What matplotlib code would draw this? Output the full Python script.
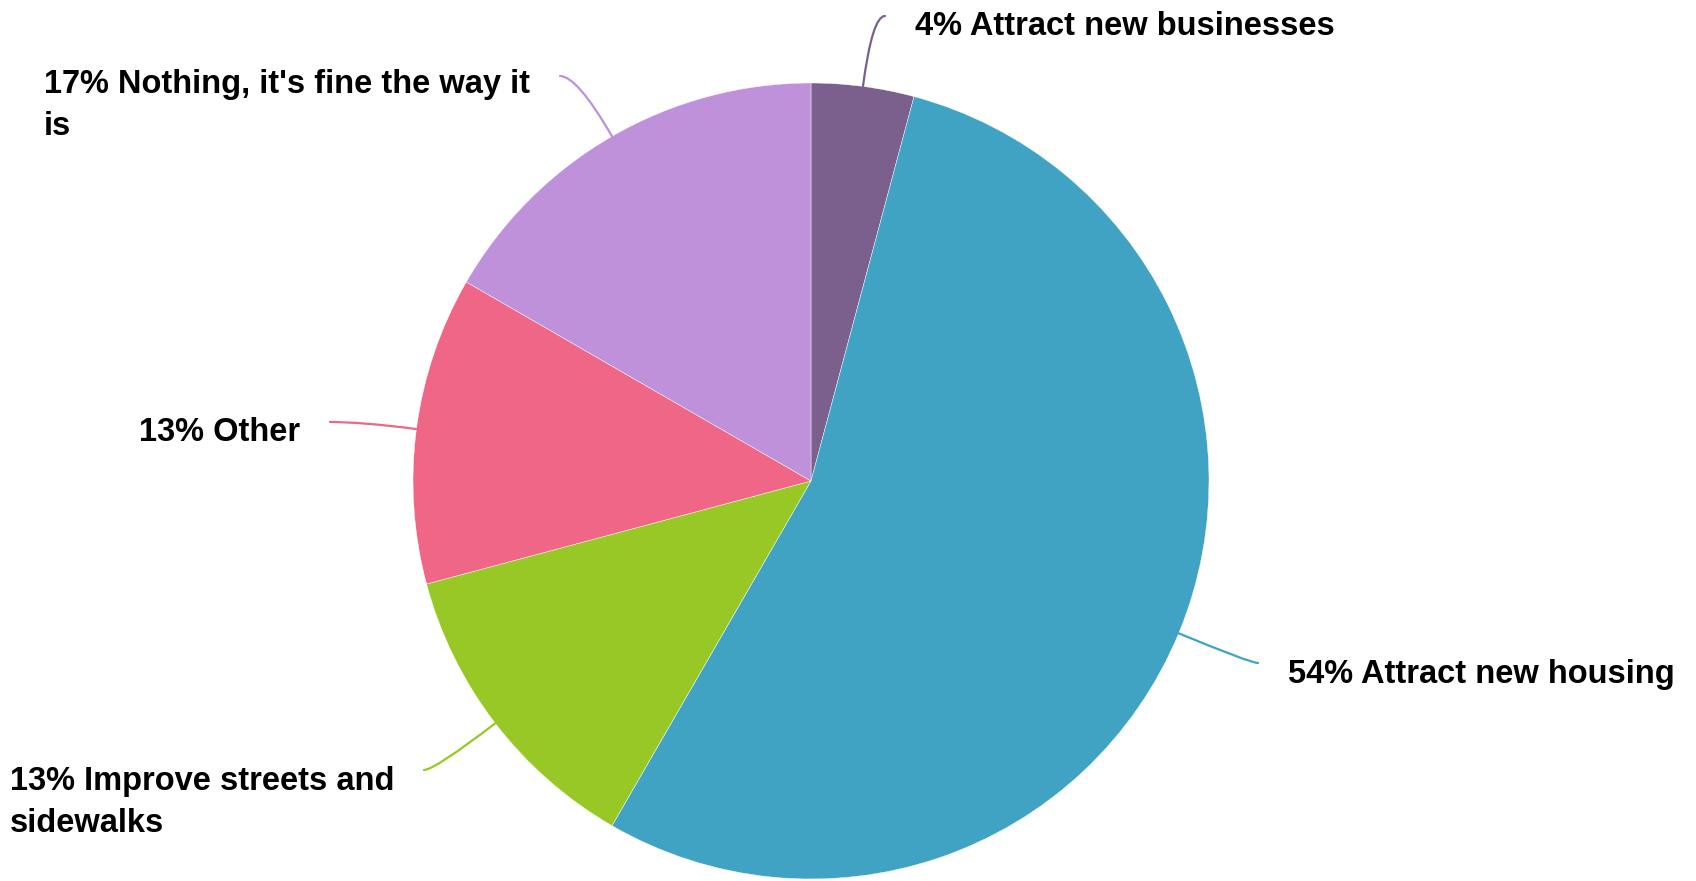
import numpy as np
import matplotlib
matplotlib.use('Agg')
import matplotlib.pyplot as plt

# survey answers (counts of respondents), drawn clockwise from 12 o'clock
answers = ['Attract new businesses', 'Attract new housing', 'Improve streets and\nsidewalks',
           'Other', "Nothing, it's fine the way it\nis"]
counts = [1, 13, 3, 3, 4]
colors = ['#7b5f8d', '#41a3c3', '#97c825', '#f06686', '#be91da']

W, H = 1696, 881

# leader line end points (pixels from top-left) and which side the label sits on
line_ends = [(885, 16), (1258, 663), (424, 770), (330, 422), (560, 76)]
sides = ['right', 'right', 'left', 'left', 'left']
first_line_y = [23, 671, 778, 429, 81]

plt.rcParams['font.family'] = ['Liberation Sans', 'DejaVu Sans']

fig = plt.figure(figsize=(W / 100, H / 100), dpi=100)
ax = fig.add_axes([0, 0, 1, 1])

cx, cy, r = 811, H - 481, 398
wedges, _ = ax.pie(counts, colors=colors, startangle=90, counterclock=False,
                   center=(cx, cy), radius=r,
                   wedgeprops=dict(edgecolor='white', linewidth=0.3))
ax.set_xlim(0, W)
ax.set_ylim(0, H)
ax.set_aspect('equal')
ax.axis('off')

total = sum(counts)
for w, n, name, col, (ex, ey), side, ty in zip(wedges, counts, answers, colors,
                                                line_ends, sides, first_line_y):
    mid = np.deg2rad((w.theta1 + w.theta2) / 2)
    px, py = cx + r * np.cos(mid), cy + r * np.sin(mid)
    ey = H - ey
    ax.annotate('', xy=(px, py), xytext=(ex, ey),
                arrowprops=dict(arrowstyle='-', color=col, lw=1.6,
                                shrinkA=0, shrinkB=0,
                                connectionstyle=f'angle3,angleA=0,angleB={np.rad2deg(mid):.1f}'))
    pct = int(100 * n / total + 0.5)
    txt = f'{pct}% {name}'
    if side == 'right':
        tx, ha = ex + 30, 'left'
    else:
        tx, ha = ex - 30, 'right'
    ax.text(tx, H - ty + 12, txt, ha=ha, va='top', multialignment='left',
            fontsize=23.5, fontweight='bold', color='black', linespacing=1.45)

fig.savefig('out.png', dpi=100)
